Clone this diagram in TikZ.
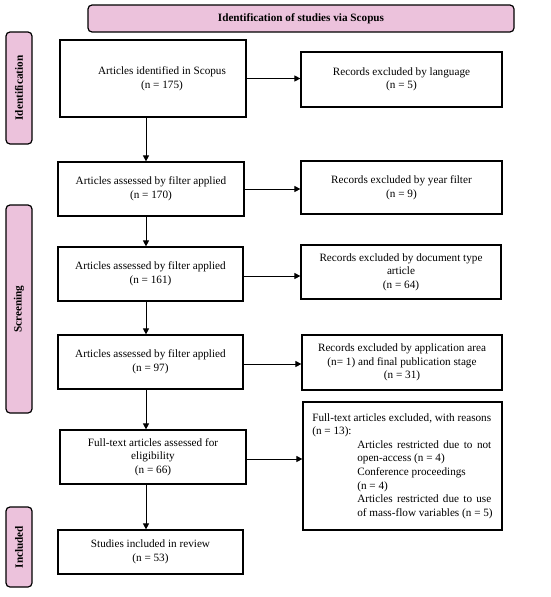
\documentclass[tikz,border=0pt]{standalone}
\usepackage{fontspec}
\setmainfont{Liberation Serif}
\usetikzlibrary{arrows.meta}
\definecolor{pinkfill}{RGB}{236,194,220}
\begin{document}
\begin{tikzpicture}[x=1pt,y=-1pt,
  font=\fontsize{11.2}{13.6}\selectfont,
  box/.style={draw=black, line width=1.2pt, fill=white, align=center, inner sep=2pt},
  phase/.style={draw=black, line width=1.2pt, fill=pinkfill, rounded corners=4pt, inner sep=0pt, font=\fontsize{11.2}{12}\selectfont\bfseries},
  arr/.style={-{Triangle[length=6pt,width=6pt]}, line width=0.9pt}]
\useasboundingbox (0,0) rectangle (550,597);
% header
\node[phase, minimum width=426pt, minimum height=27pt] (hdr) at (301,18.5) {Identification of studies via Scopus};
% side labels
\node[phase, rotate=90, minimum width=112pt, minimum height=26pt] (lid) at (19,88) {Identification};
\node[phase, rotate=90, minimum width=208pt, minimum height=26pt] (lsc) at (19,309) {Screening};
\node[phase, rotate=90, minimum width=80pt, minimum height=26pt] (lin) at (19,547) {Included};
% left boxes
\node[box, minimum width=186pt, minimum height=77pt] (b1) at (153,78.5) {\hspace*{18pt}Articles identified in Scopus\\\hspace*{18pt}(n = 175)};
\node[box, minimum width=186pt, minimum height=54pt] (b2) at (151,189) {Articles assessed by filter applied\\(n = 170)};
\node[box, minimum width=185pt, minimum height=54pt] (b3) at (150.5,274) {Articles assessed by filter applied\\(n = 161)};
\node[box, minimum width=185pt, minimum height=54pt] (b4) at (150.5,362) {Articles assessed by filter applied\\(n = 97)};
\node[box, minimum width=186pt, minimum height=54pt] (b5) at (153,457) {Full-text articles assessed for\\eligibility\\(n = 66)};
\node[box, minimum width=185pt, minimum height=44pt] (b6) at (150.5,552) {Studies included in review\\(n = 53)};
% right boxes
\node[box, minimum width=201pt, minimum height=55pt] (r1) at (401.5,79.5) {Records excluded by language\\(n = 5)};
\node[box, minimum width=201pt, minimum height=53pt] (r2) at (401.5,187.5) {Records excluded by year filter\\(n = 9)};
\node[box, minimum width=200pt, minimum height=54pt] (r3) at (401,272) {Records excluded by document type\\article\\(n = 64)};
\node[box, minimum width=200pt, minimum height=55pt] (r4) at (402,362.5) {Records excluded by application area\\(n= 1) and final publication stage\\(n = 31)};
\node[box, minimum width=199pt, minimum height=128pt, align=left] (r5) at (402.5,466) {%
Full-text articles excluded, with reasons\\
(n = 13):\\
\hspace*{45pt}\makebox[134pt][s]{Articles restricted due to not}\\
\hspace*{45pt}open-access (n = 4)\\
\hspace*{45pt}Conference proceedings\\
\hspace*{45pt}(n = 4)\\
\hspace*{45pt}\makebox[134pt][s]{Articles restricted due to use}\\
\hspace*{45pt}of mass-flow variables (n = 5)};
% vertical arrows
\coordinate (ax) at (146,0);
\draw[arr] (b1.south -| ax) -- (b2.north -| ax);
\draw[arr] (b2.south -| ax) -- (b3.north -| ax);
\draw[arr] (b3.south -| ax) -- (b4.north -| ax);
\draw[arr] (b4.south -| ax) -- (b5.north -| ax);
\draw[arr] (b5.south -| ax) -- (b6.north -| ax);
% horizontal arrows
\draw[arr] (b1.east) -- (b1.east -| r1.west);
\draw[arr] (b2.east) -- (b2.east -| r2.west);
\draw[arr] ([yshift=-2pt]b3.east) -- ([yshift=-2pt]b3.east -| r3.west);
\draw[arr] ([yshift=-2pt]b4.east) -- ([yshift=-2pt]b4.east -| r4.west);
\draw[arr] ([yshift=-2pt]b5.east) -- ([yshift=-2pt]b5.east -| r5.west);
\end{tikzpicture}
\end{document}
